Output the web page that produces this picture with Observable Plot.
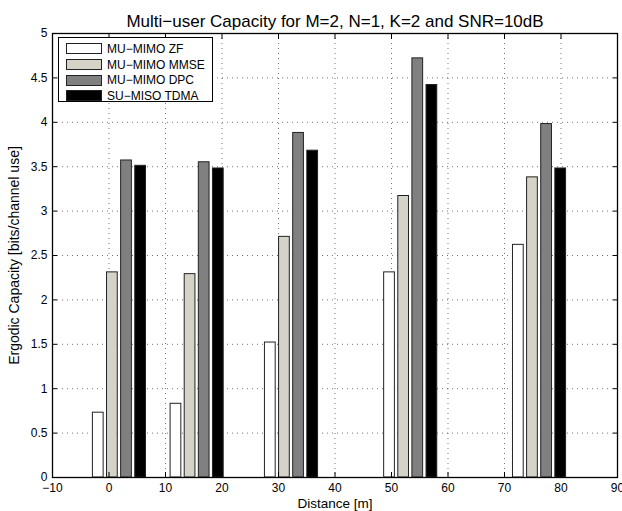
<!DOCTYPE html>
<html>
<head>
<meta charset="utf-8">
<script src="https://cdn.jsdelivr.net/npm/d3@7"></script>
<script src="https://cdn.jsdelivr.net/npm/@observablehq/plot@0.6"></script>
<style>
  html, body { margin: 0; padding: 0; background: #fff; }
  #wrap { position: relative; width: 622px; height: 511px; font-family: "Liberation Sans", Arial, sans-serif; }
  #legend { position: absolute; left: 58px; top: 37px; width: 155px; height: 65px; border: 1px solid #000; background: #fff; box-sizing: border-box; padding-top: 3px; }
  .row { display: flex; align-items: center; height: 15.7px; }
  .sw { width: 36px; height: 11px; margin-left: 7px; margin-right: 5px; border: 1px solid #222; box-sizing: border-box; }
  .lab { font-size: 12px; color: #000; white-space: nowrap; }
</style>
</head>
<body>
<div id="wrap"></div>
<script>
// ---- data ----
const title = "Multi\u2212user Capacity for M=2, N=1, K=2 and SNR=10dB";
const xLabel = "Distance [m]";
const yLabel = "Ergodic Capacity [bits/channel use]";
const distances = [1.85, 15.6, 32.3, 53.4, 76.2];
const series = ["MU\u2212MIMO ZF", "MU\u2212MIMO MMSE", "MU\u2212MIMO DPC", "SU\u2212MISO TDMA"];
const zf   = [0.73, 0.83, 1.52, 2.31, 2.62];
const mmse = [2.31, 2.29, 2.71, 3.17, 3.38];
const dpc  = [3.57, 3.55, 3.88, 4.72, 3.98];
const tdma = [3.51, 3.48, 3.68, 4.42, 3.48];
const xTicks = [-10, 0, 10, 20, 30, 40, 50, 60, 70, 80, 90];
const yTicks = [0, 0.5, 1, 1.5, 2, 2.5, 3, 3.5, 4, 4.5, 5];
const colors = ["#ffffff", "#d5d3c8", "#808080", "#000000"];

// ---- table ----
const values = [zf, mmse, dpc, tdma];
const slot = 2.5, barW = 1.9;
const rows = [];
series.forEach((s, i) => {
  distances.forEach((d, j) => {
    const c = d + (i - 1.5) * slot;
    rows.push({series: s, idx: i, x1: c - barW / 2, x2: c + barW / 2, y: values[i][j]});
  });
});

const fmtX = d => d < 0 ? "\u2212" + Math.abs(d) : String(d);
const fmtY = d => String(d);

const chart = Plot.plot({
  width: 622,
  height: 511,
  marginLeft: 52,
  marginRight: 5,
  marginTop: 33,
  marginBottom: 34,
  style: {fontFamily: "'Liberation Sans', Arial, sans-serif", fontSize: "12px", background: "#fff", color: "#000"},
  x: {domain: [-10, 90]},
  y: {domain: [0, 5]},
  color: {domain: series, range: colors},
  marks: [
    Plot.gridX(xTicks.slice(1, -1), {stroke: "#000", strokeOpacity: 0.55, strokeDasharray: "1,4"}),
    Plot.gridY(yTicks.slice(1, -1), {stroke: "#000", strokeOpacity: 0.55, strokeDasharray: "1,4"}),
    Plot.rectY(rows, {x1: "x1", x2: "x2", y: "y", fill: "series", stroke: "#222", strokeWidth: 1}),
    Plot.frame({stroke: "#000", strokeWidth: 1.3}),
    // inward ticks
    Plot.axisX({anchor: "bottom", ticks: xTicks, tickSize: 5, dy: -5, text: null, label: null}),
    Plot.axisX({anchor: "top", ticks: xTicks, tickSize: 5, dy: 5, text: null, label: null}),
    Plot.axisY({anchor: "left", ticks: yTicks, tickSize: 5, dx: 5, text: null, label: null}),
    Plot.axisY({anchor: "right", ticks: yTicks, tickSize: 5, dx: -5, text: null, label: null}),
    // tick labels
    Plot.axisX({anchor: "bottom", ticks: xTicks, tickSize: 0, tickPadding: 6, tickFormat: fmtX, fontSize: 12, label: null}),
    Plot.axisY({anchor: "left", ticks: yTicks, tickSize: 0, tickPadding: 5, tickFormat: fmtY, fontSize: 12, label: null}),
    // axis titles
    Plot.axisX({anchor: "bottom", ticks: [], tickSize: 0, fontSize: 13.5,
      label: xLabel, labelAnchor: "center", labelArrow: "none", labelOffset: 30}),
    Plot.axisY({anchor: "left", ticks: [], tickSize: 0, fontSize: 14,
      label: yLabel, labelAnchor: "center", labelArrow: "none", labelOffset: 43}),
    Plot.text([title], {frameAnchor: "top", dy: -19, fontSize: 17, text: d => d})
  ]
});

const wrap = document.getElementById("wrap");
wrap.appendChild(chart);

// legend
const leg = document.createElement("div");
leg.id = "legend";
series.forEach((s, i) => {
  const r = document.createElement("div");
  r.className = "row";
  const sw = document.createElement("div");
  sw.className = "sw";
  sw.style.background = colors[i];
  const lb = document.createElement("span");
  lb.className = "lab";
  lb.textContent = s;
  r.appendChild(sw); r.appendChild(lb);
  leg.appendChild(r);
});
wrap.appendChild(leg);
</script>
</body>
</html>
